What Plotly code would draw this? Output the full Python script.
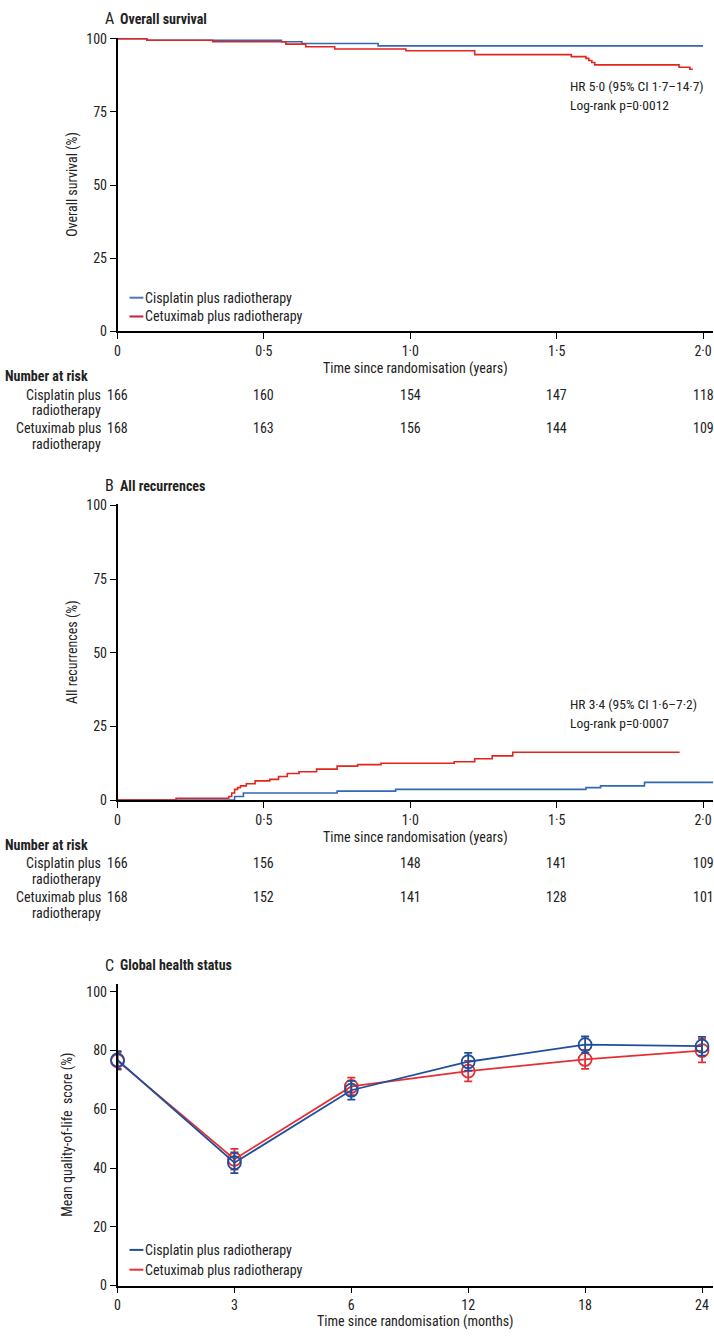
import plotly.graph_objects as go

# ---------------- data ----------------
# Panel A: overall survival (Kaplan-Meier steps)
os_cis_t = [0, 0.10, 0.56, 0.63, 0.89, 2.00]
os_cis_s = [100, 99.5, 99.0, 98.4, 97.6, 97.6]
os_cet_t = [0, 0.10, 0.325, 0.575, 0.643, 0.742, 0.985, 1.22, 1.55, 1.60, 1.61, 1.62, 1.63, 1.918, 1.955, 1.965]
os_cet_s = [100, 99.5, 99.0, 98.2, 97.3, 96.5, 95.9, 94.6, 93.9, 93.3, 92.6, 91.9, 91.1, 90.3, 89.6, 89.6]

# Panel B: all recurrences (cumulative incidence steps)
rec_cis_t = [0, 0.40, 0.43, 0.75, 0.95, 1.60, 1.65, 1.80, 2.034]
rec_cis_s = [0, 1.2, 2.4, 3.0, 3.6, 4.2, 4.8, 6.0, 6.0]
rec_cet_t = [0, 0.20, 0.38, 0.39, 0.40, 0.41, 0.42, 0.44, 0.47, 0.52, 0.55, 0.58, 0.62, 0.68,
             0.75, 0.82, 0.90, 1.15, 1.22, 1.28, 1.35, 1.92]
rec_cet_s = [0, 0.6, 1.2, 2.4, 3.6, 4.2, 4.8, 5.5, 6.5, 7.0, 8.0, 9.0, 9.6, 10.5,
             11.5, 12.0, 12.5, 13.0, 14.0, 15.0, 16.2, 16.2]

# Numbers at risk
risk_times = [0, 0.5, 1.0, 1.5, 2.0]
os_risk_cis = [166, 160, 154, 147, 118]
os_risk_cet = [168, 163, 156, 144, 109]
rec_risk_cis = [166, 156, 148, 141, 109]
rec_risk_cet = [168, 152, 141, 128, 101]

# Panel C: global health status
qol_months = ["0", "3", "6", "12", "18", "24"]
qol_cis = [76.8, 41.8, 66.5, 76.2, 82.0, 81.5]
qol_cis_err = [3.0, 3.5, 3.2, 3.0, 2.8, 3.2]
qol_cet = [76.5, 43.0, 67.8, 73.0, 77.0, 80.0]
qol_cet_err = [3.0, 3.5, 3.0, 3.5, 3.2, 4.0]

year_ticks = [0, 0.5, 1.0, 1.5, 2.0]
year_labels = ["0", "0·5", "1·0", "1·5", "2·0"]

# ---------------- style ----------------
W, H = 714, 1338
FONT = "Roboto Condensed, Liberation Sans Narrow, Liberation Sans, sans-serif"
FS = 14
BLUE = "#3467b5"
RED = "#e2251e"
BLUE_C = "#1f4f9a"
RED_C = "#e23035"
TXT = "#222222"

# layout anchors (pixels from top)
A_TOP, A_BOT = 31, 328
B_TOP, B_BOT = 503, 802
C_TOP, C_BOT = 988, 1293
X_LEFT, X_RIGHT = 115, 713


def py(px):
    return 1 - px / H


def pxx(px):
    return px / W


fig = go.Figure()

# Panel A
fig.add_trace(go.Scatter(x=os_cis_t, y=os_cis_s, mode="lines", line=dict(color=BLUE, width=1.6, shape="hv"),
                         xaxis="x", yaxis="y", showlegend=False))
fig.add_trace(go.Scatter(x=os_cet_t, y=os_cet_s, mode="lines", line=dict(color=RED, width=1.6, shape="hv"),
                         xaxis="x", yaxis="y", showlegend=False))
# Panel B
fig.add_trace(go.Scatter(x=rec_cis_t, y=rec_cis_s, mode="lines", line=dict(color=BLUE, width=1.6, shape="hv"),
                         xaxis="x2", yaxis="y2", showlegend=False))
fig.add_trace(go.Scatter(x=rec_cet_t, y=rec_cet_s, mode="lines", line=dict(color=RED, width=1.6, shape="hv"),
                         xaxis="x2", yaxis="y2", showlegend=False))
# Panel C
fig.add_trace(go.Scatter(x=qol_months, y=qol_cet, mode="lines+markers", cliponaxis=False,
                         line=dict(color=RED_C, width=1.8),
                         marker=dict(symbol="circle-open", size=13, color=RED_C, line=dict(width=1.8)),
                         error_y=dict(type="data", array=qol_cet_err, color=RED_C, thickness=1.8, width=4),
                         xaxis="x3", yaxis="y3", showlegend=False))
fig.add_trace(go.Scatter(x=qol_months, y=qol_cis, mode="lines+markers", cliponaxis=False,
                         line=dict(color=BLUE_C, width=1.8),
                         marker=dict(symbol="circle-open", size=13, color=BLUE_C, line=dict(width=1.8)),
                         error_y=dict(type="data", array=qol_cis_err, color=BLUE_C, thickness=1.8, width=4),
                         xaxis="x3", yaxis="y3", showlegend=False))

axis_common = dict(showline=True, linecolor="black", linewidth=1.5, ticks="outside", ticklen=6,
                   tickwidth=1.3, tickcolor="black", showgrid=False, zeroline=False,
                   tickfont=dict(family=FONT, size=FS, color=TXT),
                   title_font=dict(family=FONT, size=FS, color=TXT))

fig.update_layout(
    width=W, height=H, margin=dict(l=0, r=0, t=0, b=0),
    paper_bgcolor="white", plot_bgcolor="white",
    font=dict(family=FONT, size=FS, color=TXT),
    xaxis=dict(domain=[pxx(X_LEFT), pxx(X_RIGHT)], range=[0, 2.034], anchor="y",
               tickvals=year_ticks, ticktext=year_labels, **axis_common),
    yaxis=dict(domain=[py(A_BOT), py(A_TOP)], range=[0, 100.4], anchor="x",
               tickvals=[0, 25, 50, 75, 100],
               title=dict(text="Overall survival (%)", standoff=5), **axis_common),
    xaxis2=dict(domain=[pxx(X_LEFT), pxx(X_RIGHT)], range=[0, 2.034], anchor="y2",
                tickvals=year_ticks, ticktext=year_labels, **axis_common),
    yaxis2=dict(domain=[py(B_BOT), py(B_TOP)], range=[0, 100.4], anchor="x2",
                tickvals=[0, 25, 50, 75, 100],
                title=dict(text="All recurrences (%)", standoff=5), **axis_common),
    xaxis3=dict(domain=[pxx(X_LEFT), pxx(X_RIGHT)], range=[0, 5.094], anchor="y3", type="category",
                title=dict(text="Time since randomisation (months)", standoff=4), **axis_common),
    yaxis3=dict(domain=[py(C_BOT), py(C_TOP)], range=[0, 102.7], anchor="x3",
                tickvals=[0, 20, 40, 60, 80, 100],
                title=dict(text="Mean quality-of-life  score (%)", standoff=10), **axis_common),
)

ann = []


def text(x, y, s, xref="paper", yref="paper", xanchor="left", size=FS, **kw):
    ann.append(dict(x=x, y=y, xref=xref, yref=yref, text=s, showarrow=False, xanchor=xanchor,
                    yanchor="middle", font=dict(family=FONT, size=size, color=TXT), **kw))


# Panel titles
for top, letter, title in [(A_TOP, "A", "Overall survival"), (B_TOP, "B", "All recurrences"),
                           (C_TOP, "C", "Global health status")]:
    text(pxx(100), py(top - 19), letter, size=16)
    text(pxx(115), py(top - 19), "<b>" + title + "</b>", size=14)

# HR text
text(pxx(567), py(A_TOP + 49), "HR 5·0 (95% CI 1·7–14·7)", size=13.5)
text(pxx(567), py(A_TOP + 68), "Log-rank p=0·0012", size=13.5)
text(pxx(567), py(B_BOT - 97), "HR 3·4 (95% CI 1·6–7·2)", size=13.5)
text(pxx(567), py(B_BOT - 78), "Log-rank p=0·0007", size=13.5)


# x-axis titles + risk tables
def risk_table(axis_px, xref, cis, cet):
    text(0.5 * (pxx(X_LEFT) + pxx(X_RIGHT)), py(axis_px + 38), "Time since randomisation (years)",
         xanchor="center")
    text(0, py(axis_px + 45), "<b>Number at risk</b>", size=14)
    text(pxx(100), py(axis_px + 64), "Cisplatin plus", xanchor="right")
    text(pxx(100), py(axis_px + 80), "radiotherapy", xanchor="right")
    text(pxx(100), py(axis_px + 98), "Cetuximab plus", xanchor="right")
    text(pxx(100), py(axis_px + 114), "radiotherapy", xanchor="right")
    for t, a, b in zip(risk_times, cis, cet):
        text(t, py(axis_px + 64), str(a), xref=xref, xanchor="center", size=14)
        text(t, py(axis_px + 98), str(b), xref=xref, xanchor="center", size=14)


risk_table(A_BOT, "x", os_risk_cis, os_risk_cet)
risk_table(B_BOT, "x2", rec_risk_cis, rec_risk_cet)

# Legends (line sample + label)
shapes = []


def legend(xa, ya, top_px, bot_px, y1, y2, c1, c2):
    for yy, c, lab in [(y1, c1, "Cisplatin plus radiotherapy"), (y2, c2, "Cetuximab plus radiotherapy")]:
        yf = (bot_px - yy) / (bot_px - top_px)
        shapes.append(dict(type="line", xref=xa + " domain", yref=ya + " domain",
                           x0=(127 - X_LEFT) / (X_RIGHT - X_LEFT), x1=(141 - X_LEFT) / (X_RIGHT - X_LEFT),
                           y0=yf, y1=yf, line=dict(color=c, width=2)))
        ann.append(dict(x=(141 - X_LEFT) / (X_RIGHT - X_LEFT), y=yf, xref=xa + " domain",
                        yref=ya + " domain", text=lab,
                        showarrow=False, xanchor="left", yanchor="middle",
                        font=dict(family=FONT, size=FS, color=TXT)))


legend("x", "y", A_TOP, A_BOT, 294, 313, "#4a78b5", "#c8203c")
legend("x3", "y3", C_TOP, C_BOT, 1257, 1277, BLUE_C, RED_C)

fig.update_layout(annotations=ann, shapes=shapes)
fig.write_html("out.html", config={"displayModeBar": False},
               post_script="document.body.style.margin='0';document.body.style.padding='0';"
                           "document.documentElement.style.overflow='hidden';")
